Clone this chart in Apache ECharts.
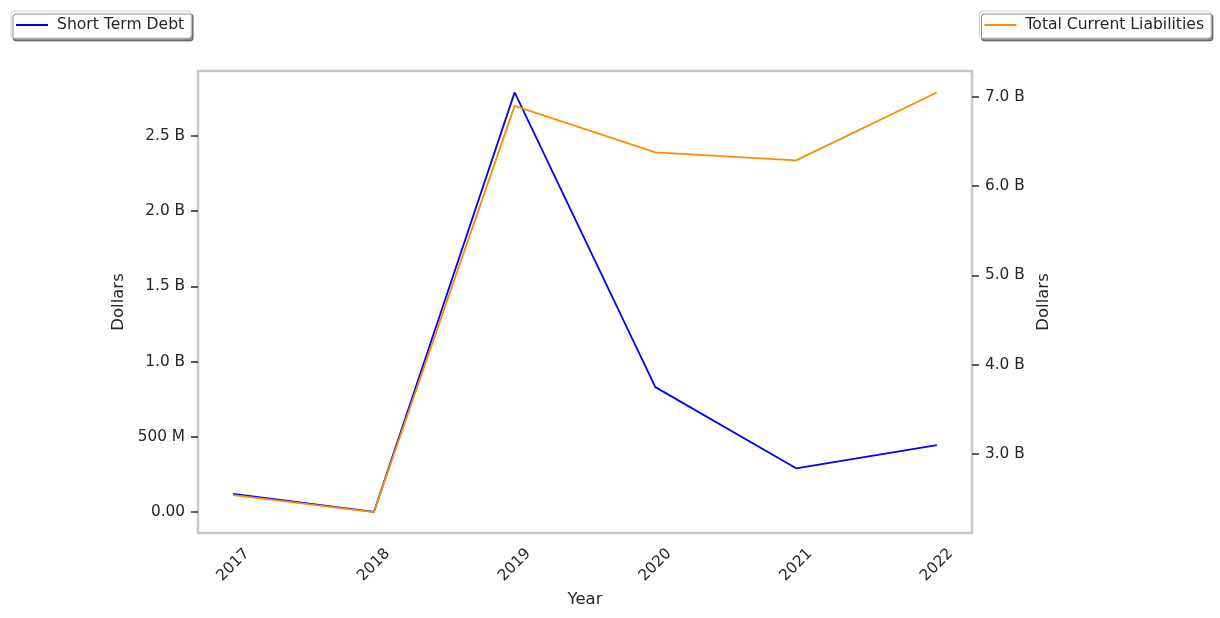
<!DOCTYPE html>
<html>
<head>
<meta charset="utf-8">
<script src="https://cdn.jsdelivr.net/npm/echarts@6/dist/echarts.min.js"></script>
<style>html,body{margin:0;padding:0;background:#fff}#c{width:1220px;height:618px}</style>
</head>
<body>
<div id="c"></div>
<script>
const years = [2017, 2018, 2019, 2020, 2021, 2022];
const shortTermDebt = [0.12e9, 0.0, 2.79e9, 0.83e9, 0.29e9, 0.445e9];
const totalCurrentLiabilities = [2.54e9, 2.35e9, 6.90e9, 6.38e9, 6.29e9, 7.05e9];
const leftTicks = [0, 0.5e9, 1.0e9, 1.5e9, 2.0e9, 2.5e9];
const rightTicks = [3e9, 4e9, 5e9, 6e9, 7e9];

function fmtLeft(v) {
  if (v === 0) return '0.00';
  if (Math.abs(v) < 1e9) return (v / 1e6).toFixed(0) + ' M';
  return (v / 1e9).toFixed(1) + ' B';
}
function fmtRight(v) { return (v / 1e9).toFixed(1) + ' B'; }

const font = 'DejaVu Sans';
const fs = 15.3;
const chart = echarts.init(document.getElementById('c'), null, {renderer: 'canvas'});
const legendCommon = {
  orient: 'horizontal', top: 11, icon: 'rect', itemWidth: 32, itemHeight: 2, itemGap: 10,
  padding: [6, 7, 5, 5], backgroundColor: '#fff', borderColor: '#cccccc', borderWidth: 1, borderRadius: 3,
  shadowColor: 'rgba(0,0,0,0.45)', shadowBlur: 0, shadowOffsetX: 2, shadowOffsetY: 3,
  textStyle: {fontFamily: font, fontSize: 15.6, color: '#262626', padding: [0, 0, 0, 4]}
};
chart.setOption({
  animation: false,
  backgroundColor: '#fff',
  legend: [
    Object.assign({}, legendCommon, {left: 11, data: ['Short Term Debt']}),
    Object.assign({}, legendCommon, {right: 9, data: ['Total Current Liabilities']})
  ],
  grid: {left: 198, right: 248, top: 71, bottom: 85, show: true, borderColor: '#c8c8c8', borderWidth: 2.5, backgroundColor: 'transparent'},
  xAxis: {
    type: 'value', min: 2016.75, max: 2022.25,
    name: 'Year', nameLocation: 'middle', nameGap: 58,
    nameTextStyle: {fontFamily: font, fontSize: 16.5, color: '#262626'},
    axisLine: {show: false}, splitLine: {show: false},
    axisTick: {show: false, customValues: years},
    axisLabel: {customValues: years, rotate: 45, align: 'center', verticalAlign: 'middle', fontFamily: font, fontSize: fs, color: '#262626', margin: 32, formatter: v => String(v)}
  },
  yAxis: [
    {
      type: 'value', min: -0.14e9, max: 2.932e9, position: 'left',
      name: 'Dollars', nameLocation: 'middle', nameGap: 66,
      nameTextStyle: {fontFamily: font, fontSize: 16.5, color: '#262626'},
      axisLine: {show: false}, splitLine: {show: false},
      axisTick: {show: true, customValues: leftTicks, length: 7, lineStyle: {color: '#262626', width: 1.5}},
      axisLabel: {customValues: leftTicks, fontFamily: font, fontSize: fs, color: '#262626', margin: 13, formatter: fmtLeft}
    },
    {
      type: 'value', min: 2.115e9, max: 7.291e9, position: 'right',
      name: 'Dollars', nameLocation: 'middle', nameGap: 62,
      nameTextStyle: {fontFamily: font, fontSize: 16.5, color: '#262626'},
      axisLine: {show: false}, splitLine: {show: false},
      axisTick: {show: true, customValues: rightTicks, length: 7, lineStyle: {color: '#262626', width: 1.5}},
      axisLabel: {customValues: rightTicks, fontFamily: font, fontSize: fs, color: '#262626', margin: 13, formatter: fmtRight}
    }
  ],
  series: [
    {
      name: 'Short Term Debt', type: 'line', yAxisIndex: 0, z: 2,
      data: years.map((y, i) => [y, shortTermDebt[i]]),
      showSymbol: false, symbol: 'none', color: '#0000ff', lineStyle: {color: '#0000ff', width: 1.8}
    },
    {
      name: 'Total Current Liabilities', type: 'line', yAxisIndex: 1, z: 3,
      data: years.map((y, i) => [y, totalCurrentLiabilities[i]]),
      showSymbol: false, symbol: 'none', color: '#ff8c00', lineStyle: {color: '#ff8c00', width: 1.8}
    }
  ]
});
</script>
</body>
</html>
